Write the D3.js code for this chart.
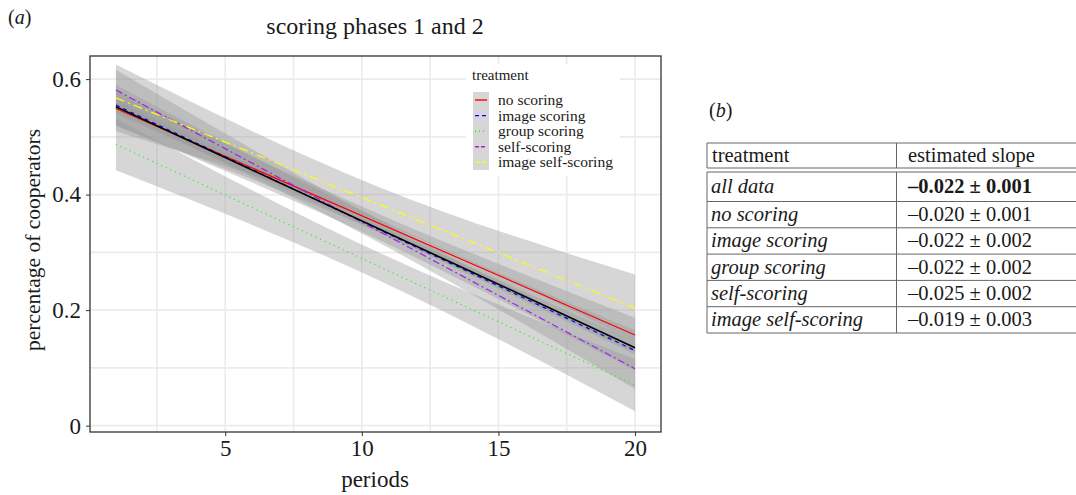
<!DOCTYPE html>
<html lang="en">
<head>
	<meta charset="utf-8">
	<script src="https://d3js.org/d3.v7.min.js"></script>
	<style>
		body { margin: 0; background: #fff; }
		text { font-family: "Liberation Serif", "DejaVu Serif", serif; fill: #1a1a1a; }
	</style>
</head>
<body>
	<script type="text/javascript">

		// data
		var treatments = ["all data", "no scoring", "image scoring", "group scoring", "self-scoring", "image self-scoring"];
		var lineColors = ["#000000", "#ff0000", "#0000ff", "#00ff00", "#a020f0", "#ffff00"];
		var lineDash = [null, null, "4,4", "1,4", "7,3,2,3", "9,4,2,4"];

		// fitted lines at period 1 and period 20
		var fitPeriods = [1, 20];
		var fitStart = [0.552, 0.549, 0.555, 0.487, 0.581, 0.5675];
		var fitEnd = [0.135, 0.157, 0.130, 0.070, 0.0985, 0.2035];

		// confidence band at periods 1, 10.5, 20
		var ciPeriods = [1, 10.5, 20];
		var ciLower = [
			[0.540, 0.3375, 0.123],
			[0.519, 0.337, 0.127],
			[0.520, 0.3245, 0.095],
			[0.442, 0.2545, 0.025],
			[0.546, 0.320, 0.0635],
			[0.5095, 0.3555, 0.1455]
		];
		var ciUpper = [
			[0.564, 0.3495, 0.147],
			[0.579, 0.369, 0.187],
			[0.590, 0.3605, 0.165],
			[0.532, 0.3025, 0.115],
			[0.616, 0.360, 0.1335],
			[0.6255, 0.4155, 0.2615]
		];

		var xTicks = [5, 10, 15, 20];
		var xMinor = [2.5, 7.5, 12.5, 17.5];
		var yTicks = [0, 0.2, 0.4, 0.6];
		var yMinor = [0.1, 0.3, 0.5];

		var slopes = ["\u20130.022 \u00b1 0.001", "\u20130.020 \u00b1 0.001", "\u20130.022 \u00b1 0.002",
			"\u20130.022 \u00b1 0.002", "\u20130.025 \u00b1 0.002", "\u20130.019 \u00b1 0.003"];

		var svgWidth = 1076;
		var svgHeight = 495;

		var svg = d3.select("body")
			.append("svg")
			.attr("width", svgWidth)
			.attr("height", svgHeight);

		var plotLeft = 90, plotRight = 661, plotTop = 56, plotBottom = 432;

		var x = d3.scaleLinear().domain([0.05, 20.95]).range([plotLeft, plotRight]);
		var y = d3.scaleLinear().domain([-0.011, 0.64]).range([plotBottom, plotTop]);

		//grid
		var grid = svg.append("g");
		grid.selectAll("line.minx").data(xMinor.concat(xTicks)).enter().append("line")
			.attr("x1", d => x(d)).attr("x2", d => x(d))
			.attr("y1", plotTop).attr("y2", plotBottom)
			.attr("stroke", "#ebebeb").attr("stroke-width", 1.6);
		grid.selectAll("line.miny").data(yMinor.concat(yTicks)).enter().append("line")
			.attr("x1", plotLeft).attr("x2", plotRight)
			.attr("y1", d => y(d)).attr("y2", d => y(d))
			.attr("stroke", "#ebebeb").attr("stroke-width", 1.6);

		//confidence ribbons
		var area = d3.area()
			.x(d => x(d.p))
			.y0(d => y(d.lo))
			.y1(d => y(d.hi))
			.curve(d3.curveNatural);

		treatments.forEach(function(t, i) {
			var pts = ciPeriods.map((p, j) => ({p: p, lo: ciLower[i][j], hi: ciUpper[i][j]}));
			svg.append("path")
				.datum(pts)
				.attr("d", area)
				.attr("fill", "#999999")
				.attr("fill-opacity", 0.4);
		});

		//fit lines, all data drawn last
		var line = d3.line().x(d => x(d.p)).y(d => y(d.v));
		[1, 2, 3, 4, 5, 0].forEach(function(i) {
			var pts = fitPeriods.map((p, j) => ({p: p, v: j == 0 ? fitStart[i] : fitEnd[i]}));
			svg.append("path")
				.datum(pts)
				.attr("d", line)
				.attr("fill", "none")
				.attr("stroke", lineColors[i])
				.attr("stroke-width", i == 0 ? 1.6 : 1.2)
				.attr("stroke-dasharray", lineDash[i]);
		});

		//panel border
		svg.append("rect")
			.attr("x", plotLeft).attr("y", plotTop)
			.attr("width", plotRight - plotLeft).attr("height", plotBottom - plotTop)
			.attr("fill", "none").attr("stroke", "#333").attr("stroke-width", 1.3);

		//axes
		var xAxis = d3.axisBottom(x).tickValues(xTicks).tickSize(4).tickPadding(4).tickFormat(d3.format("d"));
		var gx = svg.append("g")
			.attr("transform", "translate(0," + plotBottom + ")")
			.call(xAxis);
		gx.select(".domain").remove();
		gx.selectAll("line").attr("stroke", "#333");
		gx.selectAll("text").style("font-size", "23px").style("font-family", "Liberation Serif").attr("fill", "#1a1a1a");

		var yAxis = d3.axisLeft(y).tickValues(yTicks).tickSize(4).tickPadding(5).tickFormat(d => d == 0 ? "0" : d3.format(".1f")(d));
		var gy = svg.append("g")
			.attr("transform", "translate(" + plotLeft + ",0)")
			.call(yAxis);
		gy.select(".domain").remove();
		gy.selectAll("line").attr("stroke", "#333");
		gy.selectAll("text").style("font-size", "23px").style("font-family", "Liberation Serif").attr("fill", "#1a1a1a");

		//labels
		svg.append("text").attr("x", 375).attr("y", 34).attr("text-anchor", "middle")
			.style("font-size", "24px").text("scoring phases 1 and 2");
		svg.append("text").attr("x", 375).attr("y", 487).attr("text-anchor", "middle")
			.style("font-size", "23px").text("periods");
		svg.append("text").attr("transform", "translate(40,240) rotate(-90)").attr("text-anchor", "middle")
			.style("font-size", "21.5px").text("percentage of cooperators");

		var pa = svg.append("text").attr("x", 8).attr("y", 24).style("font-size", "20px");
		pa.append("tspan").text("(");
		pa.append("tspan").style("font-style", "italic").text("a");
		pa.append("tspan").text(")");

		//legend
		var legend = svg.append("g");
		legend.append("rect").attr("x", 466).attr("y", 64).attr("width", 154).attr("height", 112).attr("fill", "#fff");
		legend.append("text").attr("x", 472).attr("y", 80).style("font-size", "15px").text("treatment");
		legend.append("rect").attr("x", 473).attr("y", 92).attr("width", 16).attr("height", 78)
			.attr("fill", "#999999").attr("fill-opacity", 0.4);
		var legendItems = treatments.slice(1);
		legendItems.forEach(function(t, k) {
			var i = k + 1;
			var ly = 100 + k * 15.6;
			legend.append("line").attr("x1", 475).attr("x2", 487).attr("y1", ly).attr("y2", ly)
				.attr("stroke", lineColors[i]).attr("stroke-width", 1.4)
				.attr("stroke-dasharray", i == 2 ? "4,3" : i == 3 ? "1,3" : i == 4 ? "4,2" : i == 5 ? "5,2" : null);
			legend.append("text").attr("x", 498).attr("y", ly + 5).style("font-size", "15.5px").text(t);
		});

		//table (b)
		var pb = svg.append("text").attr("x", 709).attr("y", 117).style("font-size", "20px");
		pb.append("tspan").text("(");
		pb.append("tspan").style("font-style", "italic").text("b");
		pb.append("tspan").text(")");

		var tLeft = 707, tMid = 896.5, tRight = 1086;
		var rowLines = [172, 201.5, 227.8, 254.1, 280.4, 306.7, 333];
		var table = svg.append("g");
		var border = "#666";
		[143, 168].concat(rowLines).forEach(function(ly) {
			table.append("line").attr("x1", tLeft).attr("x2", tRight).attr("y1", ly).attr("y2", ly)
				.attr("stroke", border).attr("stroke-width", 1);
		});
		[tLeft, tMid].forEach(function(lx) {
			table.append("line").attr("x1", lx).attr("x2", lx).attr("y1", 143).attr("y2", 168).attr("stroke", border);
			table.append("line").attr("x1", lx).attr("x2", lx).attr("y1", 172).attr("y2", 333).attr("stroke", border);
		});
		table.append("text").attr("x", 712).attr("y", 162).style("font-size", "20.5px").text("treatment");
		table.append("text").attr("x", 908).attr("y", 162).style("font-size", "20.5px").text("estimated slope");
		treatments.forEach(function(t, i) {
			var cy = (rowLines[i] + rowLines[i + 1]) / 2 + 6.5;
			table.append("text").attr("x", 711).attr("y", cy).style("font-size", "20.5px")
				.style("font-style", "italic").text(t);
			table.append("text").attr("x", 908).attr("y", cy).style("font-size", "20.5px")
				.style("font-weight", i == 0 ? "bold" : "normal").text(slopes[i]);
		});

	</script>
</body>
</html>
